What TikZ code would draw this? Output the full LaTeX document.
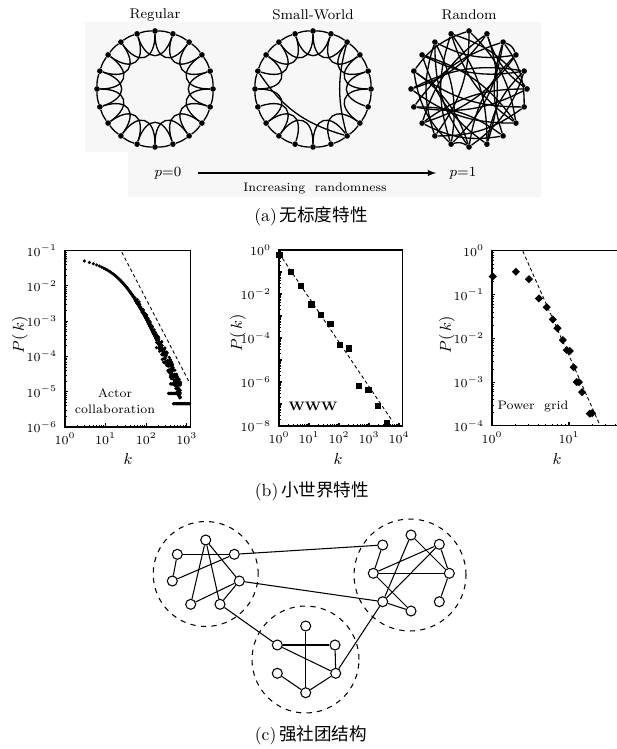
\documentclass[tikz,border=0pt]{standalone}
\usepackage{fontspec}
\newfontfamily\cjk{Noto Sans CJK SC}
\usetikzlibrary{shapes.geometric}

\tikzset{
  ringdot/.style={circle, fill=black, inner sep=0pt, minimum size=3.2pt},
  ringline/.style={line width=0.75pt},
  plotframe/.style={line width=0.6pt},
  actordot/.style={circle, fill=black, inner sep=0pt, minimum size=2pt},
  wwwmark/.style={rectangle, fill=black, inner sep=0pt, minimum size=3.6pt},
  gridmark/.style={diamond, fill=black, inner sep=0pt, minimum size=4.8pt},
  fitline/.style={dash pattern=on 2pt off 1.5pt, line width=0.5pt},
  vertex/.style={circle, draw, fill=white, line width=0.6pt, inner sep=0pt, minimum size=0.2cm},
  community/.style={circle, draw, dashed, line width=0.6pt, inner sep=0pt},
  link/.style={line width=0.6pt},
}

\begin{document}
\begin{tikzpicture}[x=0.02cm, y=-0.02cm, font=\footnotesize]
\useasboundingbox (0,0) rectangle (617,749);

% (a) the three rings
\fill[black!3] (85,22) rectangle (541,197);
\fill[white] (85,152) rectangle (128,197);
\node at (155,15) {Regular};
\node at (313,15) {Small-World};
\node at (469,15) {Random};

\foreach \i in {0,...,19} {
  \node[ringdot] (reg\i) at ({155+58*cos(90-18*\i)},{89-58*sin(90-18*\i)}) {};
  \node[ringdot] (sw\i) at ({313+58*cos(90-18*\i)},{89-58*sin(90-18*\i)}) {};
  \node[ringdot] (rnd\i) at ({469+58*cos(90-18*\i)},{89-58*sin(90-18*\i)}) {};
}
\foreach \i in {0,...,19} {
  \pgfmathtruncatemacro\j{mod(\i+1,20)}
  \pgfmathtruncatemacro\k{mod(\i+2,20)}
  \draw[ringline] (reg\i) to[bend left=9] (reg\j);
  \draw[ringline] (reg\i) to[out=270-18*\i, in=234-18*\i, looseness=2] (reg\k);
  \draw[ringline] (sw\i) to[bend left=9] (sw\j);
}
\foreach \i in {0,1,2,3,4,5,7,8,10,11,12,13,15,16,17,18,19} {
  \pgfmathtruncatemacro\k{mod(\i+2,20)}
  \draw[ringline] (sw\i) to[out=270-18*\i, in=234-18*\i, looseness=2] (sw\k);
}
\draw[ringline] (sw16) to[bend right=20] (sw8);
\draw[ringline] (sw2) to[bend right=15] (sw8);
\foreach \a/\b in {0/7,0/12,1/9,1/15,2/11,2/6,3/13,3/18,4/10,4/17,5/14,5/1,
                   6/16,6/12,7/15,7/19,8/13,8/2,9/17,9/4,10/18,10/3,11/16,11/19,
                   12/18,13/1,13/5,14/8,14/2,15/4,16/10,16/0,17/7,18/11,19/5,19/9}
  \draw[ringline] (rnd\a) to[bend left=18] (rnd\b);
\draw[ringline] (rnd2) to[bend left=25] (rnd3);
\draw[ringline] (rnd10) to[bend right=25] (rnd11);

\node (pzero) at (168,173) {$p$=0};
\node (pone) at (463,173) {$p$=1};
\draw[-latex, line width=0.6pt] ([xshift=0.2cm]pzero.east) -- ([xshift=-0.15cm]pone.west);
\node at (315,188) {\scriptsize Increasing\ \ randomness};
\node at (311,216) {\normalsize(a)\,{\cjk 无标度特性}};

% (b) actor collaboration
\begin{scope}[shift={(65,215.2)}, xscale=40.6, yscale=-35.3]
  \draw[plotframe] (0,-6) rectangle (3.1,-1);
  \foreach \u in {0,...,3} {
    \draw[plotframe] (\u,-6) -- (\u,-5.9);
    \node[below] at (\u,-6) {\scriptsize $10^{\u}$};
  }
  \foreach \u in {0,1,2} \foreach \m in {2,...,9}
    \draw ({\u+log10(\m)},-6) -- ({\u+log10(\m)},-5.95);
  \foreach \v in {-1,-2,...,-6} {
    \draw[plotframe] (0,\v) -- (0.07,\v);
    \node[left, xshift=-1pt] at (0,\v) {\scriptsize $10^{\v}$};
  }
  \foreach \v in {-6,...,-2} \foreach \m in {2,...,9}
    \draw (0,{\v+log10(\m)}) -- (0.04,{\v+log10(\m)});
  \node[actordot] at (0.01,-1.23) {};
  \foreach \n in {3,...,250}
    \node[actordot] at ({log10(\n)},{-1.166-0.2*log10(\n)-0.8*ln(1+exp(3*log10(\n)-4.5))}) {};
  \pgfmathsetseed{5}
  \foreach \n in {50,52,...,180}
    \node[actordot] at ({log10(\n)+0.02},{-1.166-0.2*log10(\n)-0.8*ln(1+exp(3*log10(\n)-4.5))+0.08*rand}) {};
  \foreach \n in {180,183,...,700}
    \node[actordot] at ({log10(\n)},{-1.166-0.2*log10(\n)-0.8*ln(1+exp(3*log10(\n)-4.5))+0.25*rand}) {};
  \foreach \u in {2.6,2.62,...,2.8}
    \node[actordot] at (\u,-4.78) {};
  \foreach \u in {2.55,2.57,...,2.85}
    \node[actordot] at (\u,-5.05) {};
  \foreach \u in {2.67,2.69,...,3.08}
    \node[actordot] at (\u,-5.34) {};
  \draw[fitline] (1.40,-1.05) -- (3.06,-4.73);
\end{scope}
\node[align=center, font=\scriptsize] at (115,401) {Actor\\[1pt]collaboration};
\node[rotate=90, font=\small] at (20,335) {$P(\,k)$};
\node[font=\small] at (128,459) {$k$};

% (b) WWW
\begin{scope}[shift={(279,250)}, xscale=30, yscale=-22]
  \draw[plotframe] (0,-8) rectangle (4.11,0);
  \foreach \u in {0,...,4} {
    \draw[plotframe] (\u,-8) -- (\u,-7.85);
    \node[below] at (\u,-8) {\scriptsize $10^{\u}$};
  }
  \foreach \u in {0,...,3} \foreach \m in {2,...,9}
    \draw ({\u+log10(\m)},-8) -- ({\u+log10(\m)},-7.92);
  \foreach \v in {0,-2,...,-8}
    \node[left, xshift=-1pt] at (0,\v) {\scriptsize $10^{\v}$};
  \foreach \v in {-8,...,-1} {
    \draw[plotframe] (0,\v) -- (0.1,\v);
    \foreach \m in {2,...,9}
      \draw (0,{\v+log10(\m)}) -- (0.05,{\v+log10(\m)});
  }
  \foreach \u/\v in {0.02/-0.23,0.40/-0.99,0.73/-1.64,1.08/-2.47,1.41/-2.95,1.72/-3.36,
                     2.03/-4.32,2.34/-4.47,2.67/-6.17,2.98/-6.35,3.29/-7.09,3.61/-7.88}
    \node[wwwmark] at (\u,\v) {};
  \draw[fitline] (0,-0.15) -- (3.79,-7.8);
\end{scope}
\node[font=\scriptsize\bfseries] at (313,406) {WWW};
\node[rotate=90, font=\small] at (238,333) {$P(\,k)$};
\node[font=\small] at (338,459) {$k$};

% (b) power grid
\begin{scope}[shift={(492,250.7)}, xscale=77, yscale=-43.8]
  \draw[plotframe] (1.7,0) -- (0,0) -- (0,-4) -- (1.7,-4);
  \foreach \u in {0,1} {
    \draw[plotframe] (\u,-4) -- (\u,-3.9);
    \node[below] at (\u,-4) {\scriptsize $10^{\u}$};
  }
  \foreach \m in {2,...,9,20,30,40,50}
    \draw ({log10(\m)},-4) -- ({log10(\m)},-3.95);
  \foreach \v in {0,-1,...,-4}
    \node[left, xshift=-1pt] at (0,\v) {\scriptsize $10^{\v}$};
  \foreach \v in {-4,...,-1} {
    \draw[plotframe] (0,\v) -- (0.04,\v);
    \foreach \m in {2,...,9}
      \draw (0,{\v+log10(\m)}) -- (0.02,{\v+log10(\m)});
  }
  \foreach \u/\v in {0.01/-0.59,0.31/-0.48,0.48/-0.65,0.61/-1.09,0.71/-1.29,0.79/-1.57,
                     0.85/-1.77,0.92/-2.04,0.97/-2.27,1.01/-2.29,1.06/-2.66,1.10/-3.0,
                     1.13/-3.0,1.17/-3.23,1.27/-3.72,1.30/-3.71}
    \node[gridmark] at (\u,\v) {};
  \draw[fitline] (0.40,-0.01) -- (1.40,-3.98);
\end{scope}
\node[font=\scriptsize] at (533,406) {Power\ \ grid};
\node[rotate=90, font=\small] at (447,335) {$P(\,k)$};
\node[font=\small] at (557,459) {$k$};
\node at (312,491) {\normalsize(b)\,{\cjk 小世界特性}};

% (c) communities
\node[community, minimum size=2.1cm] (grpA) at (205.7,574) {};
\node[community, minimum size=2.24cm] (grpB) at (410,575) {};
\node[community, minimum size=2.14cm] (grpC) at (305.5,659.5) {};

\node[vertex] (a1) at (177.3,554.3) {};
\node[vertex] (a2) at (205.7,540) {};
\node[vertex] (a3) at (234.3,554.3) {};
\node[vertex] (a4) at (172.3,581) {};
\node[vertex] (a5) at (239.3,581) {};
\node[vertex] (a6) at (190.7,604.3) {};
\node[vertex] (a7) at (220,604.3) {};

\node[vertex] (b1) at (382.7,545) {};
\node[vertex] (b2) at (411,535) {};
\node[vertex] (b3) at (439.3,544.3) {};
\node[vertex] (b4) at (373.3,573.3) {};
\node[vertex] (b5) at (449.3,573.3) {};
\node[vertex] (b6) at (382.7,601.7) {};
\node[vertex] (b7) at (411,611) {};
\node[vertex] (b8) at (439.3,601.7) {};

\node[vertex] (c1) at (305.7,626) {};
\node[vertex] (c2) at (277.3,645) {};
\node[vertex] (c3) at (335,645) {};
\node[vertex] (c4) at (277.3,673.3) {};
\node[vertex] (c5) at (335.7,673.3) {};
\node[vertex] (c6) at (305.7,692.7) {};

\foreach \p/\q in {a1/a3,a1/a4,a4/a3,a2/a6,a2/a7,a2/a5,a6/a5,a7/a5,
                   b1/b4,b4/b5,b4/b3,b4/b7,b2/b6,b2/b5,b3/b6,b3/b5,b6/b7,b5/b8,
                   c2/c3,c1/c6,c2/c5,c3/c5,c4/c6,c6/c5,
                   a3/b1,a5/b6,a7/c2,c5/b6}
  \draw[link] (\p) -- (\q);

\node at (311,735) {\normalsize(c)\,{\cjk 强社团结构}};
\end{tikzpicture}
\end{document}
